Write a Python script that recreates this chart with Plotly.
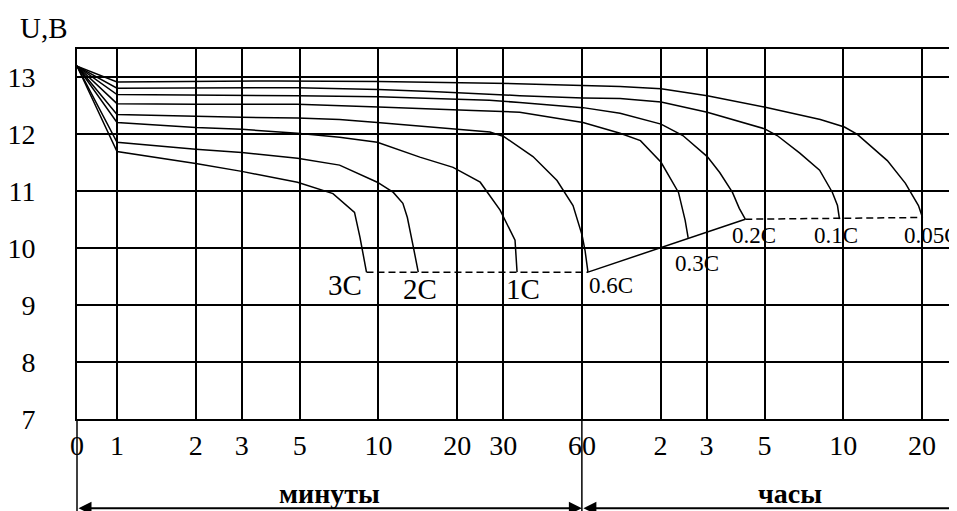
import numpy as np
import plotly.graph_objects as go

# ---- data (time in minutes, voltage in V) ----
ZERO_T = 0.703  # position of the "0" mark on the log time axis
START_V = 13.2

x_tickvals = [ZERO_T, 1, 2, 3, 5, 10, 20, 30, 60, 120, 180, 300, 600, 1200]
x_ticktext = ["0", "1", "2", "3", "5", "10", "20", "30", "60", "2", "3", "5", "10", "20"]
y_tickvals = [7, 8, 9, 10, 11, 12, 13]
y_ticktext = ["7", "8", "9", "10", "11", "12", "13"]

t_3C = [1, 2, 3, 4.9, 6.7, 8.1, 8.5, 9.0]
v_3C = [11.70, 11.49, 11.35, 11.16, 10.96, 10.63, 10.19, 9.58]

t_2C = [1, 2, 3, 4.9, 7.1, 9.9, 11.4, 12.4, 12.9, 13.6, 14.2]
v_2C = [11.86, 11.74, 11.68, 11.58, 11.46, 11.16, 10.98, 10.79, 10.54, 10.02, 9.58]

t_1C = [1, 2, 3, 4.9, 7.1, 9.9, 14.4, 19.3, 24.5, 29.2, 33.3, 33.9]
v_1C = [12.21, 12.12, 12.09, 12.02, 11.95, 11.86, 11.60, 11.42, 11.16, 10.67, 10.14, 9.58]

t_06C = [1, 2, 3, 4.9, 7.1, 9.9, 14.8, 20, 26.7, 30.2, 39, 48.2, 55.5, 60.1, 61.7, 63.3]
v_06C = [12.35, 12.32, 12.30, 12.29, 12.26, 12.21, 12.14, 12.09, 12.04, 11.96, 11.61, 11.19, 10.75, 10.23, 9.96, 9.58]

t_03C = [1, 2, 4.9, 10, 16.7, 23, 34.7, 60.6, 84, 100.5, 120.5, 140.5, 149, 153]
v_03C = [12.54, 12.53, 12.53, 12.48, 12.45, 12.42, 12.39, 12.21, 12.02, 11.89, 11.51, 10.98, 10.49, 10.18]

t_02C = [1, 4.9, 10, 16.2, 26.6, 34.7, 60.6, 84, 120.5, 146, 181, 202, 226, 240, 253]
v_02C = [12.70, 12.68, 12.66, 12.63, 12.60, 12.56, 12.47, 12.37, 12.18, 11.98, 11.61, 11.33, 10.98, 10.70, 10.51]

t_01C = [1, 4.9, 10, 16.7, 34.7, 60.6, 84, 120.5, 181, 299, 335, 409, 487, 545, 570, 580]
v_01C = [12.81, 12.82, 12.79, 12.75, 12.68, 12.64, 12.63, 12.57, 12.39, 12.10, 11.98, 11.67, 11.37, 10.98, 10.75, 10.51]

t_005C = [1, 4.1, 10, 33.8, 60.6, 84, 120.5, 181, 299, 490, 606, 679, 884, 1037, 1163, 1205]
v_005C = [12.92, 12.94, 12.93, 12.89, 12.86, 12.84, 12.80, 12.68, 12.48, 12.26, 12.13, 12.00, 11.54, 11.14, 10.75, 10.54]

curve_names = ["3C", "2C", "1C", "0.6C", "0.3C", "0.2C", "0.1C", "0.05C"]
curve_t = [t_3C, t_2C, t_1C, t_06C, t_03C, t_02C, t_01C, t_005C]
curve_v = [v_3C, v_2C, v_1C, v_06C, v_03C, v_02C, v_01C, v_005C]

# label positions (time, voltage)
label_t = [7.45, 14.4, 35.7, 77.6, 165.6, 273, 564, 1007]
label_v = [9.35, 9.28, 9.28, 9.35, 9.73, 10.22, 10.22, 10.22]

X_RANGE = [np.log10(ZERO_T), 3.213]
Y_RANGE = [7, 13.5]

SERIF = "Liberation Serif, Times New Roman, serif"

fig = go.Figure()

for t, v in zip(curve_t, curve_v):
    fig.add_trace(go.Scatter(x=[ZERO_T] + t, y=[START_V] + v, mode="lines",
                             line=dict(color="black", width=1.5),
                             showlegend=False, hoverinfo="skip"))

# end-of-discharge lines
ends_t = [t[-1] for t in curve_t]
ends_v = [v[-1] for v in curve_v]
fig.add_trace(go.Scatter(x=[ends_t[0], ends_t[3]], y=[ends_v[0], ends_v[3]], mode="lines",
                         line=dict(color="black", width=1.5, dash="7px,4px"), showlegend=False))
fig.add_trace(go.Scatter(x=[ends_t[3], ends_t[5]], y=[ends_v[3], ends_v[5]], mode="lines",
                         line=dict(color="black", width=1.5), showlegend=False))
fig.add_trace(go.Scatter(x=[ends_t[5], ends_t[7]], y=[ends_v[5], ends_v[7]], mode="lines",
                         line=dict(color="black", width=1.5, dash="7px,4px"), showlegend=False))

annotations = []
for name, lt, lv in zip(curve_names, label_t, label_v):
    big = name in ("3C", "2C", "1C")
    annotations.append(dict(x=np.log10(lt), y=lv, xref="x", yref="y", text=name, showarrow=False,
                            xanchor="left" if name == "0.05C" else "center", yanchor="middle",
                            font=dict(family=SERIF, size=29 if big else 23, color="black")))

annotations.append(dict(x=-0.0375, y=1.057, xref="paper", yref="paper", text="U,B", showarrow=False,
                        xanchor="center", yanchor="middle",
                        font=dict(family=SERIF, size=29, color="black")))


def paper_x(t):
    return (np.log10(t) - X_RANGE[0]) / (X_RANGE[1] - X_RANGE[0])


annotations.append(dict(x=(paper_x(ZERO_T) + paper_x(60)) / 2, y=-0.2, xref="paper", yref="paper",
                        text="<b>минуты</b>", showarrow=False, xanchor="center", yanchor="middle",
                        font=dict(family=SERIF, size=28, color="black")))
annotations.append(dict(x=0.81, y=-0.2, xref="paper", yref="paper",
                        text="<b>часы</b>", showarrow=False, xanchor="center", yanchor="middle",
                        font=dict(family=SERIF, size=28, color="black")))

# dimension arrows
for a, b in [(ZERO_T, 60), (60, 10 ** X_RANGE[1] * 1.3)]:
    annotations.append(dict(x=np.log10(b), y=-0.241, xref="x", yref="paper",
                            ax=np.log10(a), ay=0, axref="x", ayref="pixel",
                            text="", showarrow=True, arrowhead=2, arrowside="end+start",
                            arrowsize=1.3, arrowwidth=2, arrowcolor="black"))

shapes = []
for t in (ZERO_T, 60):
    shapes.append(dict(type="line", xref="paper", yref="paper", x0=paper_x(t), x1=paper_x(t),
                       y0=0, y1=-0.26, line=dict(color="black", width=1.5)))

# the page body adds an 8px offset, so the figure is 8px smaller
fig.update_layout(
    width=949, height=503,
    margin=dict(l=69, r=0, t=41, b=92),
    paper_bgcolor="white", plot_bgcolor="white",
    showlegend=False,
    annotations=annotations,
    shapes=shapes,
    xaxis=dict(type="log", range=X_RANGE, tickvals=x_tickvals, ticktext=x_ticktext,
               automargin=False,
               showgrid=True, gridcolor="black", gridwidth=2, zeroline=False,
               showline=True, linecolor="black", linewidth=2, mirror=True, ticks="",
               tickfont=dict(family=SERIF, size=28, color="black")),
    yaxis=dict(range=Y_RANGE, tickvals=y_tickvals, ticktext=y_ticktext,
               automargin=False,
               showgrid=True, gridcolor="black", gridwidth=2, zeroline=False,
               showline=True, linecolor="black", linewidth=2, ticks="",
               ticklabelstandoff=34,
               tickfont=dict(family=SERIF, size=28, color="black")),
)

fig.write_html("out.html")
